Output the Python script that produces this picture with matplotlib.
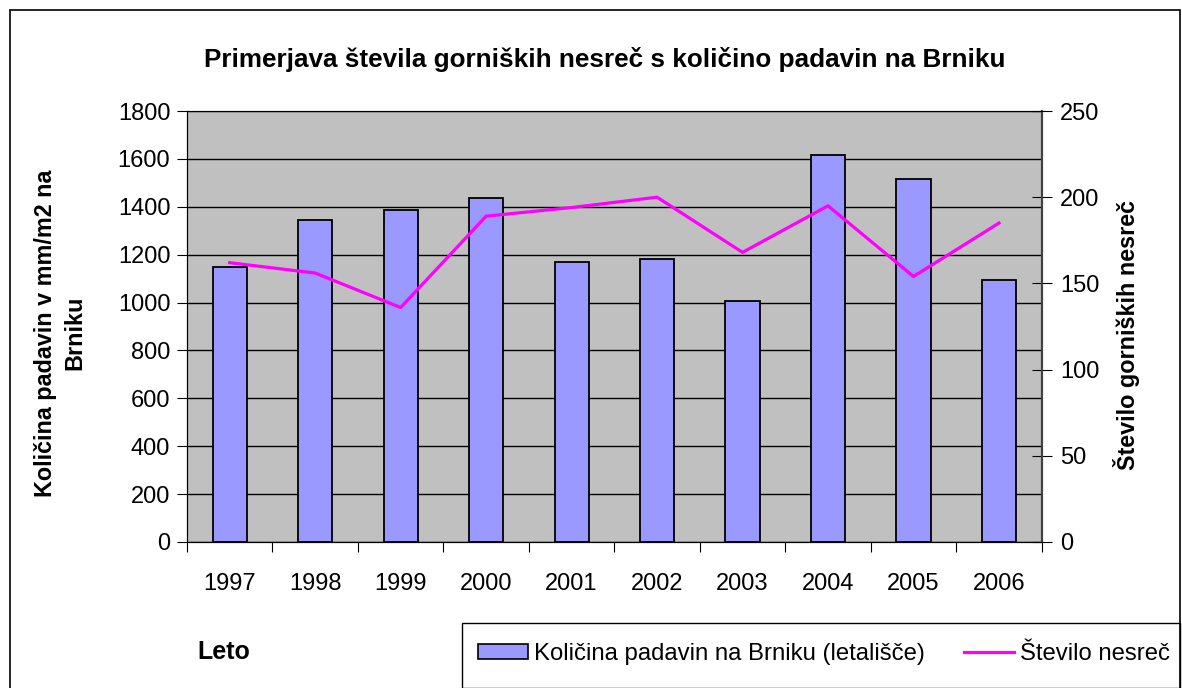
import matplotlib
matplotlib.use("Agg")
from matplotlib import pyplot as plt
from matplotlib.patches import Rectangle, Patch
from matplotlib.lines import Line2D
import numpy as np

plt.rcParams['font.family'] = ['Liberation Sans', 'DejaVu Sans']

years = ['1997', '1998', '1999', '2000', '2001', '2002', '2003', '2004', '2005', '2006']
rainfall = [1150, 1345, 1385, 1435, 1170, 1180, 1005, 1615, 1515, 1095]  # mm/m2
accidents = [162, 156, 136, 189, 194, 200, 168, 195, 154, 185]

W, H = 1182, 688
fig = plt.figure(figsize=(W / 100, H / 100), dpi=100)

# outer chart border
fig.patches.append(Rectangle((10 / W, -0.01), (W - 12) / W, (H - 10) / H + 0.01,
                             transform=fig.transFigure, fill=False, edgecolor='black', lw=1.2))

ax = fig.add_axes([187 / W, (H - 542) / H, (1041.7 - 187) / W, (542 - 111) / H])
ax.set_facecolor('#C0C0C0')
x = np.arange(len(years))
ax.bar(x, rainfall, width=0.4, color='#9999FF', edgecolor='black', linewidth=1.3, zorder=3)
ax.set_xlim(-0.5, len(years) - 0.5)
ax.set_ylim(0, 1800)
ax.set_yticks(np.arange(0, 1801, 200))
ax.yaxis.grid(True, color='black', lw=1)
ax.set_axisbelow(True)
ax.tick_params(axis='y', direction='out', length=7, labelsize=17, pad=5)

# category boundaries as ticks, labels centred
ax.set_xticks(np.arange(-0.5, len(years), 1))
ax.set_xticklabels([])
ax.set_xticks(x, minor=True)
ax.set_xticklabels(years, minor=True, fontsize=17)
ax.tick_params(axis='x', which='major', direction='out', length=7)
ax.tick_params(axis='x', which='minor', length=0, pad=22)

for s in ['left', 'bottom']:
    ax.spines[s].set_color('black')
ax.spines['top'].set_color('#808080')
ax.spines['right'].set_color('#404040')
ax.spines['right'].set_linewidth(1.5)

ax2 = ax.twinx()
ax2.plot(x, accidents, color='#FF00FF', lw=2.3, zorder=5)
ax2.set_ylim(0, 250)
ax2.set_yticks(np.arange(0, 251, 50))
ax2.tick_params(axis='y', direction='inout', length=14, labelsize=17, pad=6)
ax2.spines['right'].set_color('#404040')
ax2.spines['right'].set_linewidth(1.5)

fig.text(605 / W, 1 - 60 / H, 'Primerjava števila gorniških nesreč s količino padavin na Brniku',
         ha='center', va='center', fontsize=18.8, fontweight='bold')
fig.text(60 / W, 1 - 333 / H, 'Količina padavin v mm/m2 na\nBrniku', rotation=90,
         ha='center', va='center', fontsize=16.8, fontweight='bold', linespacing=1.35)
fig.text(1126 / W, 1 - 335 / H, 'Število gorniških nesreč', rotation=90,
         ha='center', va='center', fontsize=16.8, fontweight='bold')
fig.text(197 / W, 1 - 652 / H, 'Leto', ha='left', va='center', fontsize=18, fontweight='bold')

# legend box
fig.patches.append(Rectangle((462 / W, 0), (1180 - 462) / W, (688 - 623) / H,
                             transform=fig.transFigure, fill=False, edgecolor='black', lw=1))
handles = [Patch(facecolor='#9999FF', edgecolor='black', lw=1.2),
           Line2D([], [], color='#FF00FF', lw=2.3)]
labels = ['Količina padavin na Brniku (letališče)', 'Število nesreč']
fig.legend(handles, labels, loc='center', bbox_to_anchor=(824 / W, 1 - 654 / H),
           ncol=2, frameon=False, fontsize=17.2, handlelength=2.1, handleheight=0.6,
           handletextpad=0.25, columnspacing=1.6, borderaxespad=0)

fig.savefig('out.png', dpi=100)
